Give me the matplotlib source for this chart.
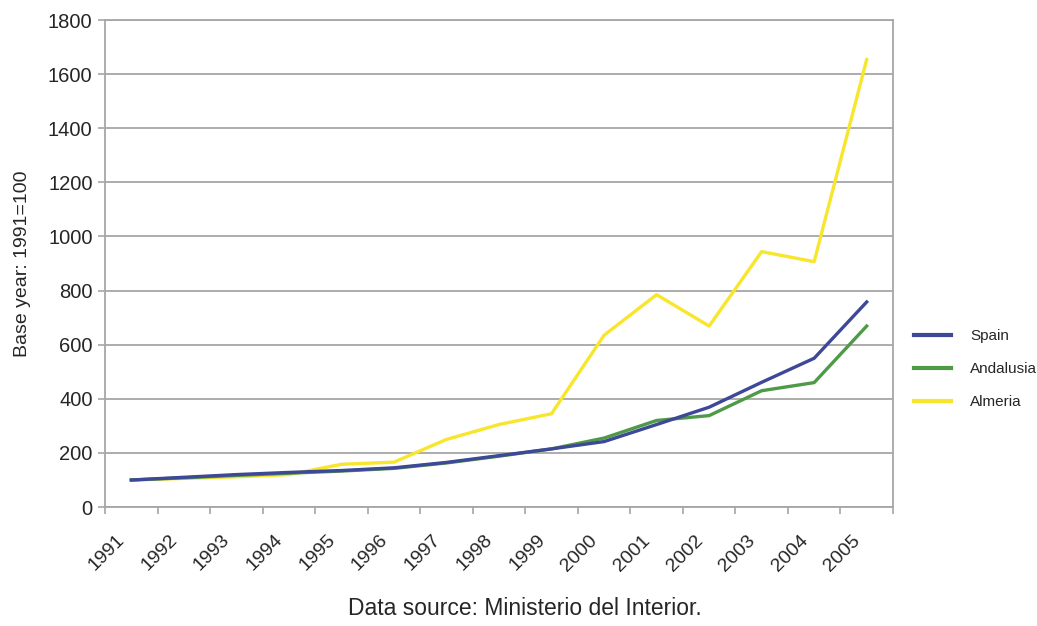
import matplotlib
matplotlib.use("Agg")
import matplotlib.pyplot as plt
from matplotlib.ticker import FixedLocator, NullFormatter
from matplotlib.transforms import ScaledTranslation

YEARS = [str(y) for y in range(1991, 2006)]
SPAIN = [100, 110, 120, 128, 135, 145, 165, 190, 215, 242, 305, 369, 461, 550, 758]
ANDALUSIA = [100, 108, 117, 125, 133, 143, 163, 188, 215, 255, 320, 338, 430, 460, 669]
ALMERIA = [100, 106, 112, 120, 158, 166, 250, 305, 345, 635, 785, 669, 944, 907, 1654]

BLUE = "#3d4897"
GREEN = "#4f9a47"
YELLOW = "#f7e62c"
GRID = "#a6a6a6"
INK = "#262626"

plt.rcParams["font.family"] = ["Liberation Sans", "DejaVu Sans"]

fig = plt.figure(figsize=(10.37, 6.26), dpi=100)
ax = fig.add_axes([0.1013, 0.190, 0.7598, 0.778])

x = list(range(len(YEARS)))
ax.plot(x, ANDALUSIA, color=GREEN, lw=2.4, label="Andalusia", zorder=3)
ax.plot(x, SPAIN, color=BLUE, lw=2.4, label="Spain", zorder=4)
ax.plot(x, ALMERIA, color=YELLOW, lw=2.4, label="Almeria", zorder=2)

ax.set_xlim(-0.5, len(YEARS) - 0.5)
ax.set_ylim(0, 1800)
ax.set_yticks(range(0, 1801, 200))
ax.yaxis.grid(True, color=GRID, lw=1.3)
ax.set_axisbelow(True)

ax.set_xticks(x)
ax.set_xticklabels(YEARS, rotation=45, ha="right", va="center", rotation_mode="anchor")
ax.xaxis.set_minor_locator(FixedLocator([i - 0.5 for i in range(len(YEARS) + 1)]))
ax.xaxis.set_minor_formatter(NullFormatter())
ax.tick_params(axis="x", which="major", length=0, pad=22, labelsize=14, colors=INK)
ax.tick_params(axis="x", which="minor", length=5, width=1.2, color=GRID)
ax.tick_params(axis="y", length=5, width=1.2, color=GRID, labelsize=14.5, labelcolor=INK, pad=4)

# shift the slanted year labels a little to the left, like the original
shift = ScaledTranslation(-9 / 100, 0, fig.dpi_scale_trans)
for lab in ax.get_xticklabels():
    lab.set_transform(lab.get_transform() + shift)

for s in ax.spines.values():
    s.set_color(GRID)
    s.set_linewidth(1.3)

ax.set_ylabel("Base year: 1991=100", fontsize=14, color=INK, labelpad=12)
fig.text(0.506, 0.018, "Data source: Ministerio del Interior.", ha="center",
         fontsize=16.5, color=INK)

h, l = ax.get_legend_handles_labels()
order = [1, 0, 2]
leg = fig.legend([h[i] for i in order], [l[i] for i in order],
                 loc="center left", bbox_to_anchor=(0.868, 0.41), frameon=False,
                 handlelength=2.4, handletextpad=1.3, labelspacing=1.25,
                 prop={"size": 11})
for line in leg.get_lines():
    line.set_linewidth(3)
for t in leg.get_texts():
    t.set_color(INK)

fig.savefig("out.png", dpi=100, facecolor="white")
